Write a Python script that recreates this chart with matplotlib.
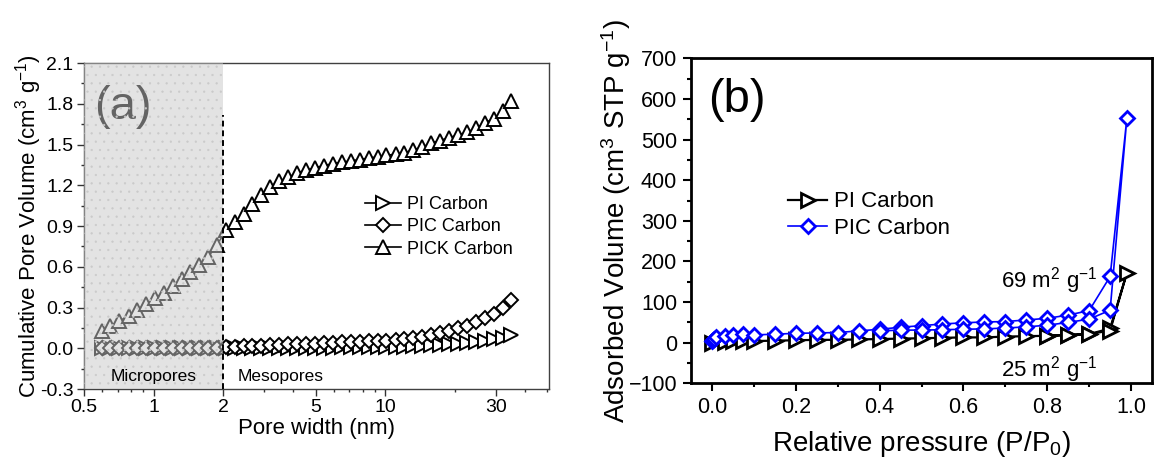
import matplotlib
matplotlib.use("Agg")
import matplotlib.pyplot as plt
from matplotlib.ticker import FixedLocator, MultipleLocator, NullFormatter, LogLocator
import numpy as np

plt.rcParams["font.family"] = ["Liberation Sans", "DejaVu Sans"]
plt.rcParams["mathtext.default"] = "regular"
plt.rcParams["hatch.linewidth"] = 0.4

# ---- panel (a): cumulative pore volume vs pore width ----
pore_w = [0.60, 0.65, 0.71, 0.78, 0.85, 0.93, 1.01, 1.11, 1.21, 1.32, 1.44, 1.57,
          1.72, 1.88, 2.05, 2.24, 2.45, 2.67, 2.92, 3.19, 3.49, 3.81, 4.17, 4.55,
          4.98, 5.44, 5.94, 6.49, 7.10, 7.76, 8.48, 9.27, 10.1, 11.1, 12.1, 13.2,
          14.4, 15.8, 17.2, 18.8, 20.6, 22.5, 24.6, 26.9, 29.4, 32.1, 35.0]
pi_vol = [0.0] * 19 + [0.002, 0.002, 0.003, 0.003, 0.004, 0.004, 0.005, 0.005,
                       0.006, 0.006, 0.007, 0.007, 0.008, 0.008, 0.010, 0.012,
                       0.015, 0.018, 0.022, 0.026, 0.030, 0.035, 0.040, 0.046,
                       0.054, 0.066, 0.078, 0.098]
pic_vol = [0.0] * 14 + [0.010, 0.012, 0.015, 0.018, 0.020, 0.023, 0.025, 0.028,
                        0.030, 0.033, 0.035, 0.038, 0.040, 0.043, 0.045, 0.048,
                        0.050, 0.053, 0.057, 0.062, 0.068, 0.075, 0.085, 0.100,
                        0.115, 0.130, 0.150, 0.165, 0.190, 0.225, 0.250, 0.300,
                        0.355]
pick_vol = [0.13, 0.165, 0.20, 0.24, 0.285, 0.325, 0.37, 0.41, 0.46, 0.51, 0.56,
            0.615, 0.675, 0.76, 0.87, 0.93, 0.99, 1.06, 1.13, 1.19, 1.23, 1.26,
            1.29, 1.31, 1.33, 1.345, 1.36, 1.37, 1.38, 1.39, 1.40, 1.41, 1.42,
            1.43, 1.44, 1.46, 1.48, 1.51, 1.53, 1.55, 1.57, 1.59, 1.62, 1.66,
            1.69, 1.75, 1.82]

# ---- panel (b): N2 isotherms (adsorption then desorption) ----
pi_p = [0.0, 0.03, 0.05, 0.075, 0.1, 0.15, 0.2, 0.25, 0.3, 0.35, 0.4, 0.45, 0.5,
        0.55, 0.6, 0.65, 0.7, 0.75, 0.8, 0.85, 0.9, 0.95, 0.99,
        0.95, 0.9, 0.85, 0.8]
pi_v = [0, 2, 3, 3, 4, 5, 6, 7, 7, 8, 9, 10, 11, 12, 13, 13, 15, 16, 17, 19, 21, 35, 172,
        30, 21, 19, 17]
pic_p = [0.0, 0.002, 0.005, 0.01, 0.03, 0.05, 0.075, 0.1, 0.15, 0.2, 0.25, 0.3,
         0.35, 0.4, 0.45, 0.5, 0.55, 0.6, 0.65, 0.7, 0.75, 0.8, 0.85, 0.9, 0.95,
         0.99, 0.95, 0.9, 0.85, 0.8, 0.75, 0.7, 0.65, 0.6, 0.55, 0.5, 0.45, 0.4]
pic_v = [3, 6, 10, 14, 17, 19, 21, 19, 21, 23, 24, 25, 29, 33, 38, 42, 46, 49, 51,
         52, 56, 60, 68, 79, 163, 553, 80, 58, 50, 43, 39, 36, 34, 33, 32, 31, 31, 29]

BLUE = "#0000ff"

fig = plt.figure(figsize=(11.54, 4.59), dpi=100)

# ------------------------------------------------------------------ (a)
ax = fig.add_axes([0.0728, 0.1525, 0.403, 0.710])
mk = dict(color="black", mfc="white", lw=1.2, mew=1.4)
ax.plot(pore_w, pi_vol, marker=">", ms=9.5, label="PI Carbon", zorder=3, **mk)
ax.plot(pore_w, pic_vol, marker="D", ms=7.3, label="PIC Carbon", zorder=3, **mk)
ax.plot(pore_w, pick_vol, marker="^", ms=10.5, label="PICK Carbon", zorder=3, **mk)
ax.text(0.555, 1.78, "(a)", fontsize=34, color="black", va="center", ha="left", zorder=2)

# shaded micropore region on top, so markers behind it look grey
ax.axvspan(0.5, 2.0, facecolor="#c8c8c8", alpha=0.5, lw=0, zorder=5)
ax.axvspan(0.5, 2.0, facecolor="none", edgecolor="#cacaca", hatch="..", lw=0, zorder=5)
ax.plot([2, 2], [-0.3, 1.72], ls=(0, (3, 2)), color="black", lw=1.4, zorder=6)
ax.text(1.0, -0.21, "Micropores", fontsize=12.5, ha="center", va="center", zorder=6)
ax.text(3.55, -0.21, "Mesopores", fontsize=12.5, ha="center", va="center", zorder=6)

ax.set_xscale("log")
ax.set_xlim(0.5, 51)
ax.set_ylim(-0.3, 2.1)
ax.xaxis.set_major_locator(FixedLocator([0.5, 1, 2, 5, 10, 30]))
ax.xaxis.set_major_formatter(matplotlib.ticker.FixedFormatter(["0.5", "1", "2", "5", "10", "30"]))
ax.xaxis.set_minor_locator(LogLocator(base=10, subs=np.arange(1, 10) * 1.0, numticks=20))
ax.xaxis.set_minor_formatter(NullFormatter())
ax.yaxis.set_major_locator(MultipleLocator(0.3))
ax.yaxis.set_minor_locator(MultipleLocator(0.15))
ax.yaxis.set_major_formatter(matplotlib.ticker.FormatStrFormatter("%.1f"))
ax.tick_params(which="both", direction="out", top=False, right=False,
               labelsize=14, width=1.0, color="#333333", pad=2.5)
ax.tick_params(which="major", length=5)
ax.tick_params(which="minor", length=2.5)
for s in ax.spines.values():
    s.set_color("#404040")
    s.set_linewidth(1.0)
ax.set_xlabel("Pore width (nm)", fontsize=16)
ax.set_ylabel("Cumulative Pore Volume (cm$^3$ g$^{-1}$)", fontsize=16)
ax.xaxis.set_label_coords(0.5, -0.088)
ax.yaxis.set_label_coords(-0.085, 0.5)
ax.legend(loc="upper left", bbox_to_anchor=(0.585, 0.62), frameon=False, fontsize=13,
          handlelength=2.0, handletextpad=0.3, labelspacing=0.3, borderpad=0)

# ------------------------------------------------------------------ (b)
bx = fig.add_axes([0.5988, 0.1649, 0.3995, 0.708])
bx.plot(pi_p, pi_v, color="black", marker=">", ms=10, mfc="white", mew=2.0, lw=1.6,
        label="PI Carbon", zorder=3)
bx.plot(pic_p, pic_v, color=BLUE, marker="D", ms=7.2, mfc="white", mew=2.0, lw=1.2,
        label="PIC Carbon", zorder=4)
bx.text(-0.01, 598, "(b)", fontsize=34, va="center", ha="left")
bx.text(0.92, 152, "69 m$^2$ g$^{-1}$", fontsize=16, ha="right", va="center")
bx.text(0.92, -65, "25 m$^2$ g$^{-1}$", fontsize=16, ha="right", va="center")
bx.set_xlim(-0.05, 1.05)
bx.set_ylim(-100, 700)
bx.xaxis.set_major_locator(MultipleLocator(0.2))
bx.xaxis.set_minor_locator(MultipleLocator(0.1))
bx.yaxis.set_major_locator(MultipleLocator(100))
bx.yaxis.set_minor_locator(MultipleLocator(50))
bx.xaxis.set_major_formatter(matplotlib.ticker.FormatStrFormatter("%.1f"))
bx.tick_params(which="both", direction="out", top=False, right=False,
               labelsize=15.5, width=1.5, pad=4)
bx.tick_params(which="major", length=6)
bx.tick_params(which="minor", length=3)
for s in bx.spines.values():
    s.set_linewidth(2.0)
bx.set_xlabel("Relative pressure (P/P$_0$)", fontsize=20)
bx.set_ylabel("Adsorbed Volume (cm$^3$ STP g$^{-1}$)", fontsize=20)
bx.xaxis.set_label_coords(0.5, -0.142)
bx.yaxis.set_label_coords(-0.125, 0.5)
bx.legend(loc="upper left", bbox_to_anchor=(0.187, 0.625), frameon=False, fontsize=16,
          handlelength=1.75, handletextpad=0.3, labelspacing=0.25, borderpad=0)

fig.savefig("out.png", dpi=100)
